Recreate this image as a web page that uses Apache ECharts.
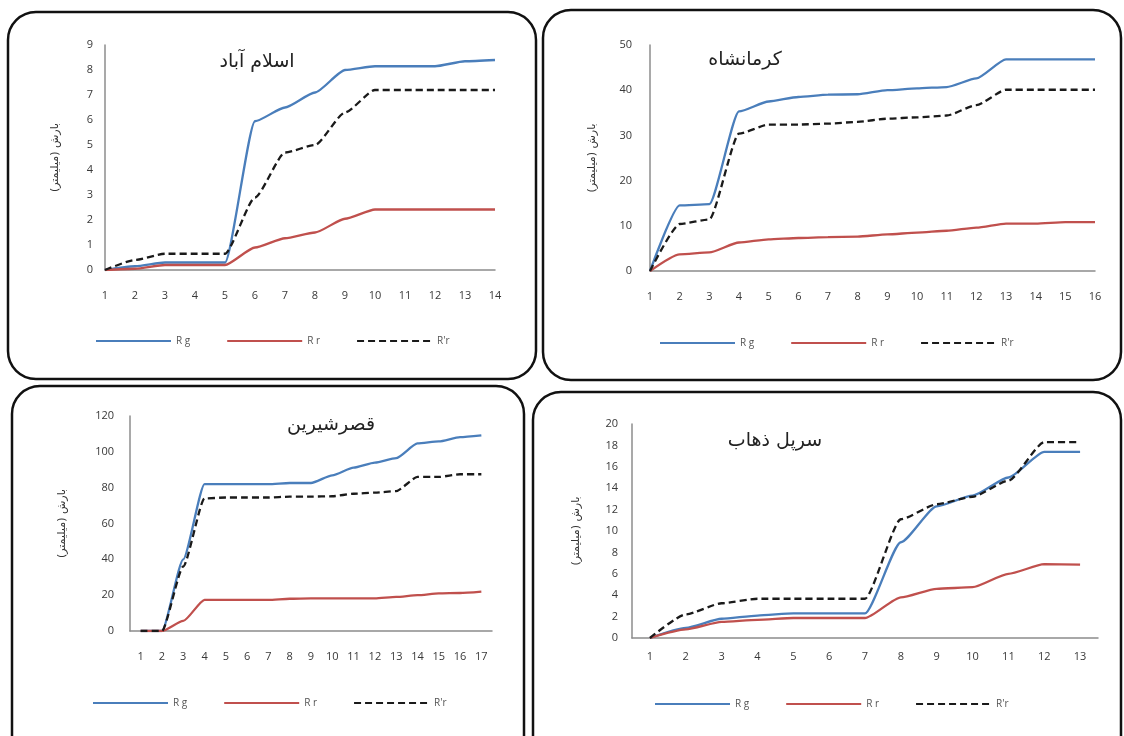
<!DOCTYPE html>
<html><head><meta charset="utf-8">
<script src="https://cdn.jsdelivr.net/npm/echarts@6/dist/echarts.min.js"></script>
<style>html,body{margin:0;padding:0;background:#fff}#c{width:1124px;height:736px}</style>
</head><body><div id="c"></div>
<script>
// ---------- data ----------
const yAxisName = 'بارش (میلیمتر)';
const seriesNames = ['R g', 'R r', "R'r"];

// Panel 1: Islamabad
const titleIslamabad = 'اسلام آباد';
const catsIslamabad = ['1','2','3','4','5','6','7','8','9','10','11','12','13','14'];
const rgIslamabad  = [0, 0.15, 0.3, 0.3, 0.3, 5.95, 6.5, 7.1, 8.0, 8.15, 8.15, 8.15, 8.35, 8.4];
const rrIslamabad  = [0, 0.05, 0.2, 0.2, 0.2, 0.9, 1.27, 1.5, 2.05, 2.42, 2.42, 2.42, 2.42, 2.42];
const rpIslamabad  = [0, 0.4, 0.65, 0.65, 0.65, 2.9, 4.7, 5.0, 6.3, 7.2, 7.2, 7.2, 7.2, 7.2];
const yTicksIslamabad = {min: 0, max: 9, interval: 1};

// Panel 2: Kermanshah
const titleKermanshah = 'کرمانشاه';
const catsKermanshah = ['1','2','3','4','5','6','7','8','9','10','11','12','13','14','15','16'];
const rgKermanshah = [0, 14.5, 14.8, 35.3, 37.5, 38.5, 39.0, 39.1, 40.0, 40.4, 40.7, 42.6, 46.8, 46.8, 46.8, 46.8];
const rrKermanshah = [0, 3.7, 4.1, 6.3, 7.0, 7.3, 7.5, 7.6, 8.1, 8.5, 8.9, 9.6, 10.5, 10.5, 10.8, 10.8];
const rpKermanshah = [0, 10.4, 11.4, 30.4, 32.4, 32.4, 32.6, 33.0, 33.7, 34.0, 34.4, 36.7, 40.1, 40.1, 40.1, 40.1];
const yTicksKermanshah = {min: 0, max: 50, interval: 10};

// Panel 3: Qasr-e Shirin
const titleQasr = 'قصرشیرین';
const catsQasr = ['1','2','3','4','5','6','7','8','9','10','11','12','13','14','15','16','17'];
const rgQasr = [0, 0, 40, 82, 82, 82, 82, 82.6, 82.6, 86.9, 91.2, 94, 96.5, 104.7, 105.8, 108.2, 109.2];
const rrQasr = [0, 0, 5.6, 17.4, 17.4, 17.4, 17.4, 18, 18.2, 18.2, 18.2, 18.2, 19, 20, 21, 21.2, 22];
const rpQasr = [0, 0, 36, 74, 74.5, 74.5, 74.5, 75, 75, 75.2, 76.6, 77.2, 78.1, 86, 86, 87.5, 87.5];
const yTicksQasr = {min: 0, max: 120, interval: 20};

// Panel 4: Sarpol-e Zahab
const titleSarpol = 'سرپل ذهاب';
const catsSarpol = ['1','2','3','4','5','6','7','8','9','10','11','12','13'];
const rgSarpol = [0, 0.95, 1.8, 2.1, 2.3, 2.3, 2.3, 8.95, 12.3, 13.3, 15.0, 17.4, 17.4];
const rrSarpol = [0, 0.8, 1.5, 1.7, 1.87, 1.87, 1.87, 3.8, 4.6, 4.75, 6.0, 6.9, 6.85];
const rpSarpol = [0, 2.2, 3.25, 3.67, 3.67, 3.67, 3.67, 11.1, 12.5, 13.2, 14.7, 18.3, 18.3];
const yTicksSarpol = {min: 0, max: 20, interval: 2};

// ---------- layout / style ----------
const panels = [
  {title: titleIslamabad, cats: catsIslamabad, rg: rgIslamabad, rr: rrIslamabad, rp: rpIslamabad, y: yTicksIslamabad,
   grid: {left: 105, top: 45, width: 390, height: 225}, gap: false, nameGap: 44, yMargin: 12, xMargin: 20,
   titlePos: [252, 48], legendPos: [90, 331], border: [8, 12, 528, 367]},
  {title: titleKermanshah, cats: catsKermanshah, rg: rgKermanshah, rr: rrKermanshah, rp: rpKermanshah, y: yTicksKermanshah,
   grid: {left: 650, top: 45, width: 445, height: 226}, gap: false, nameGap: 52, yMargin: 18, xMargin: 20,
   titlePos: [740, 46], legendPos: [654, 333], border: [543, 10, 578, 370]},
  {title: titleQasr, cats: catsQasr, rg: rgQasr, rr: rrQasr, rp: rpQasr, y: yTicksQasr,
   grid: {left: 130, top: 416, width: 362, height: 215}, gap: true, nameGap: 62, yMargin: 16, xMargin: 20,
   titlePos: [326, 411], legendPos: [87, 693], border: [12, 386, 512, 380]},
  {title: titleSarpol, cats: catsSarpol, rg: rgSarpol, rr: rrSarpol, rp: rpSarpol, y: yTicksSarpol,
   grid: {left: 632, top: 424, width: 466, height: 214}, gap: true, nameGap: 50, yMargin: 14, xMargin: 13,
   titlePos: [770, 427], legendPos: [649, 694], border: [533, 392, 588, 380]}
];

const BLUE = '#4A7EBB', RED = '#C0504D', BLACK = '#1a1a1a', AXIS = '#8c8c8c';
const tickFont = {fontFamily: 'Open Sans, DejaVu Sans, sans-serif', fontSize: 11, color: '#383838'};

const option = {
  animation: false,
  backgroundColor: '#fff',
  title: [], grid: [], xAxis: [], yAxis: [], series: [], legend: [],
  graphic: []
};

panels.forEach((p, i) => {
  option.title.push({
    text: p.title, left: p.titlePos[0], top: p.titlePos[1], textAlign: 'center',
    textStyle: {fontFamily: 'DejaVu Sans, Noto Sans, sans-serif', fontSize: 19, fontWeight: 'normal', color: '#222'}
  });
  option.grid.push(Object.assign({containLabel: false}, p.grid));
  option.xAxis.push({
    type: 'category', gridIndex: i, data: p.cats, boundaryGap: p.gap,
    axisLine: {lineStyle: {color: AXIS, width: 1.5}}, axisTick: {show: false},
    axisLabel: Object.assign({margin: p.xMargin, interval: 0}, tickFont), splitLine: {show: false}
  });
  option.yAxis.push({
    type: 'value', gridIndex: i, min: p.y.min, max: p.y.max, interval: p.y.interval,
    name: yAxisName, nameLocation: 'middle', nameRotate: 90, nameGap: p.nameGap,
    nameTextStyle: {fontFamily: 'DejaVu Sans, sans-serif', fontSize: 11, color: '#333'},
    axisLine: {show: true, lineStyle: {color: AXIS, width: 1.5}}, axisTick: {show: false},
    axisLabel: Object.assign({margin: p.yMargin}, tickFont), splitLine: {show: false}
  });
  const common = {type: 'line', xAxisIndex: i, yAxisIndex: i, symbol: 'none', smooth: 0.2, smoothMonotone: 'x'};
  option.series.push(Object.assign({name: seriesNames[0], data: p.rg, lineStyle: {color: BLUE, width: 2.3}, itemStyle: {color: BLUE}}, common));
  option.series.push(Object.assign({name: seriesNames[1], data: p.rr, lineStyle: {color: RED, width: 2.3}, itemStyle: {color: RED}}, common));
  option.series.push(Object.assign({name: seriesNames[2], data: p.rp, lineStyle: {color: BLACK, width: 2.3, type: [7, 4]}, itemStyle: {color: BLACK}}, common));
  option.legend.push({
    left: p.legendPos[0], top: p.legendPos[1], data: seriesNames, orient: 'horizontal',
    itemWidth: 75, itemHeight: 12, itemGap: 36, selectedMode: false,
    itemStyle: {opacity: 0, color: 'rgba(0,0,0,0)', borderWidth: 0},
    textStyle: {fontFamily: 'Open Sans, sans-serif', fontSize: 10, color: '#555'}
  });
  const b = p.border;
  option.graphic.push({
    type: 'rect', shape: {x: b[0], y: b[1], width: b[2], height: b[3], r: 28},
    style: {fill: 'none', stroke: '#111', lineWidth: 2.5}, silent: true, z: 100
  });
});

const chart = echarts.init(document.getElementById('c'), null, {renderer: 'canvas'});
chart.setOption(option);
</script>
</body></html>
